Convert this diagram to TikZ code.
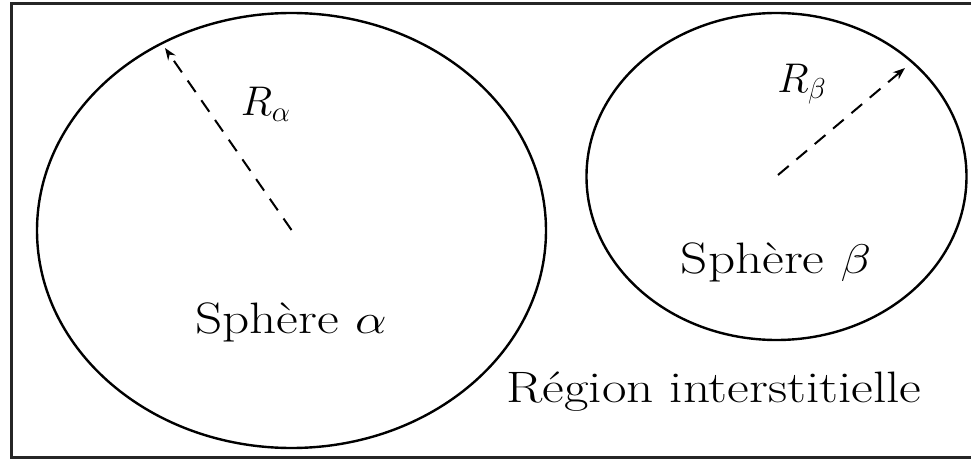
\documentclass[tikz,border=0pt]{standalone}
\usepackage{graphicx}
\usetikzlibrary{arrows.meta}
\newcommand{\widetext}[1]{\scalebox{1.21}[1]{#1}}
\begin{document}
\begin{tikzpicture}[x=0.5pt,y=-0.5pt,
  frame/.style={line width=1.5pt,draw=black!85},
  sphere/.style={line width=1.2pt,draw=black},
  radius/.style={line width=1pt,dash pattern=on 7pt off 5pt,-{Stealth[length=6pt,width=4.5pt]}},
  lbl/.style={inner sep=0pt,font=\fontsize{21}{25}\selectfont},
  txt/.style={inner sep=0pt,font=\fontsize{22}{26}\selectfont}]
\useasboundingbox (0,0) rectangle (971,460);
\draw[frame] (11.5,3.5) rectangle (976,457);
\draw[sphere] (291.5,230.5) ellipse [x radius=254.5, y radius=217.5];
\draw[sphere] (776.5,176.5) ellipse [x radius=190, y radius=163.5];
\coordinate (ca) at (291.5,230);
\coordinate (ta) at (165,48);
\coordinate (cb) at (778,175);
\coordinate (tb) at (905,68);
\draw[radius] (ca) -- (ta);
\draw[radius] (cb) -- (tb);
\node[lbl] (Ra) at (266,104) {$R_\alpha$};
\node[lbl] (Rb) at (802,84) {$R_\beta$};
\node[txt] (Sa) at (291,322) {\widetext{Sphère $\alpha$}};
\node[txt] (Sb) at (776,262) {\widetext{Sphère $\beta$}};
\node[txt] (Ri) at (714,392) {\widetext{Région interstitielle}};
\end{tikzpicture}
\end{document}
